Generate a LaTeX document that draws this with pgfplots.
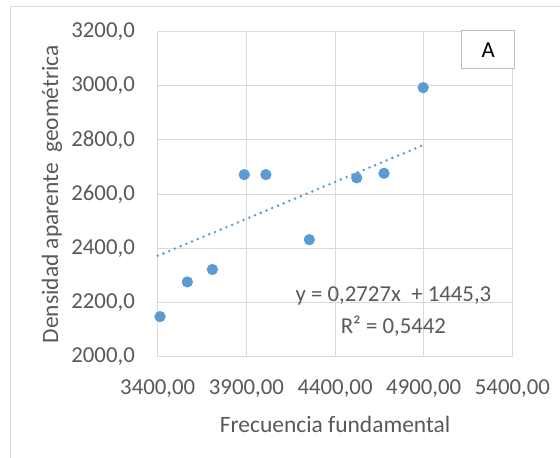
\documentclass[border=0pt]{standalone}
\usepackage{pgfplots}
\pgfplotsset{compat=1.18}
\usepackage{fontspec}
\setmainfont{Carlito}

\definecolor{ptblue}{HTML}{5B9BD5}
\definecolor{txtgray}{HTML}{595959}
\definecolor{gridgray}{HTML}{D9D9D9}
\definecolor{boxgray}{HTML}{BFBFBF}

% measured scatter data: fundamental frequency vs. geometric bulk density
\pgfplotstableread{
x    y
3413 2148
3567 2276
3708 2322
3888 2672
4010 2672
4255 2432
4522 2660
4676 2677
4897 2993
}\datatable

% linear trend y = 0.2727x + 1445.3 evaluated at its two ends
\pgfplotstableread{
x    y
3400 2372.48
4897 2780.70
}\trendtable

\begin{document}
\begin{tikzpicture}
\begin{axis}[
  at={(118.3pt,75.2pt)}, anchor=south west,
  scale only axis,
  width=266.0pt, height=243.9pt,
  xmin=3400, xmax=5400, ymin=2000, ymax=3200,
  xtick={3400,3900,4400,4900,5400},
  ytick={2000,2200,...,3200},
  major tick length=0pt,
  grid=major,
  major grid style={gridgray, line width=0.75pt},
  axis line style={gridgray, line width=0.75pt},
  axis x line*=bottom, axis y line*=left,
  separate axis lines,
  x axis line style={-}, y axis line style={-},
  clip=false,
  /pgf/number format/assume math mode=true,
  xticklabel style={
    /pgf/number format/.cd, fixed, zerofill, precision=2, use comma, 1000 sep={},
    /tikz/.cd, anchor=center, yshift=-24.2pt, font=\fontsize{17.1}{20}\selectfont, text=txtgray},
  yticklabel style={
    /pgf/number format/.cd, fixed, zerofill, precision=1, use comma, 1000 sep={},
    /tikz/.cd, anchor=east, inner sep=0pt, xshift=-17pt, font=\fontsize{17.1}{20}\selectfont, text=txtgray},
  xlabel={Frecuencia fundamental},
  ylabel={Densidad aparente\ \ geométrica},
  xlabel style={at={(axis description cs:0.5,-0.207)}, anchor=center,
    font=\fontsize{17.6}{20}\selectfont, text=txtgray},
  ylabel style={at={(axis description cs:-0.298,0.5)}, anchor=center,
    font=\fontsize{17.6}{20}\selectfont, text=txtgray},
]
  % dotted linear trendline
  \addplot[ptblue, line width=2.1pt, line cap=round,
    dash pattern=on 0pt off 4.65pt, no markers] table[x=x, y=y] {\trendtable};
  % measured points
  \addplot[only marks, mark=*, mark size=4pt,
    mark options={fill=ptblue, draw=ptblue}] table[x=x, y=y] {\datatable};

  % trendline equation and coefficient of determination
  \node[anchor=base, text=txtgray, font=\fontsize{17.1}{20}\selectfont, inner sep=0pt]
    at (axis cs:4729,2204) {y = 0,2727x\ \ + 1445,3};
  \node[anchor=base, text=txtgray, font=\fontsize{17.1}{20}\selectfont, inner sep=0pt]
    at (axis cs:4729,2085) {R² = 0,5442};

  % panel tag
  \draw[boxgray, line width=0.75pt, fill=white]
    (axis cs:5115,3063) rectangle (axis cs:5412,3203);
  \node[font=\fontsize{17.1}{20}\selectfont, text=black]
    at (axis cs:5263,3133) {A};
\end{axis}

% chart area border
\draw[gridgray, line width=0.75pt] (7.5pt,-20pt) -- (7.5pt,337.7pt) -- (440pt,337.7pt);

\pgfresetboundingbox
\useasboundingbox (0pt,0pt) rectangle (420pt,342.75pt);
\end{tikzpicture}
\end{document}
